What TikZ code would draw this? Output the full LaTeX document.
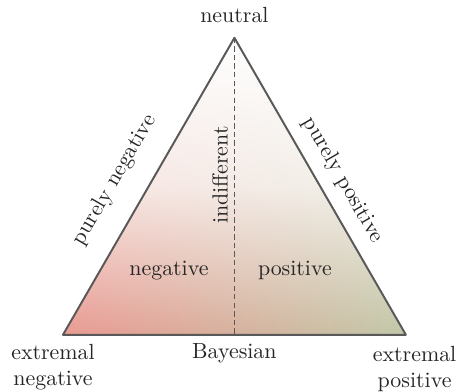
\documentclass[tikz,border=0pt]{standalone}
\usepackage{amsmath}
\usepackage{tikz}
\usetikzlibrary{positioning, calc, fadings}
\definecolor{negred}{RGB}{234,154,146}
\definecolor{posgreen}{RGB}{194,200,168}
\tikzfading[name=fade up, top color=transparent!0, bottom color=transparent!100, middle color=transparent!25]

\begin{document}
\begin{tikzpicture}[
    edge/.style={draw=black!65, line width=0.9pt, line join=round},
    divider/.style={draw=black!65, dash pattern=on 2.4pt off 1.5pt, line width=0.55pt},
    lbl/.style={align=center, text=black!85},
    ]
\useasboundingbox (-1.01,-0.914) rectangle (6.40,5.37);
\coordinate (neg) at (0,0);
\coordinate (pos) at (5.5,0);
\coordinate (neu) at (2.75,4.763);
\coordinate (bay) at (2.75,0);

% shading of the simplex
\shade[left color=negred, right color=posgreen] (neg) -- (pos) -- (neu) -- cycle;
\fill[white, path fading=fade up] (neg) -- (pos) -- (neu) -- cycle;

\draw[divider] (neu) -- (bay);
\draw[edge] (neg) -- (pos) -- (neu) -- cycle;

% corner labels
\node[lbl] (neutral) at (2.75,5.13) {neutral};
\node[lbl] (extneg) at (-0.16,-0.52) {extremal\\negative};
\node[lbl] (extpos) at (5.64,-0.55) {extremal\\positive};
\node[lbl] (bayes) at (2.75,-0.29) {Bayesian};

% edge and region labels
\node[lbl, rotate=60] (pneg) at (0.83,2.48) {purely negative};
\node[lbl, rotate=-60] (ppos) at (4.49,2.48) {purely positive};
\node[lbl, rotate=90] (indiff) at (2.52,2.56) {indifferent};
\node[lbl] (negative) at (1.70,1.03) {negative};
\node[lbl] (positive) at (3.72,1.03) {positive};

\end{tikzpicture}
\end{document}
